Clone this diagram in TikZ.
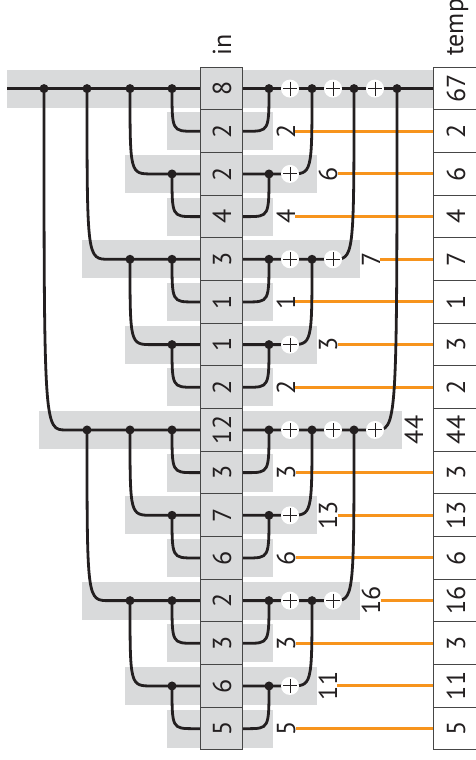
\documentclass[tikz,border=0pt]{standalone}
\usepackage{fontspec}
\setmainfont{PT Sans}
\pgfdeclarelayer{bands}
\pgfdeclarelayer{orng}
\pgfdeclarelayer{wires}
\pgfsetlayers{bands,orng,wires,main}
\definecolor{band}{RGB}{217,218,219}
\definecolor{ora}{RGB}{247,148,29}
\definecolor{ink}{RGB}{35,31,32}
\definecolor{edge}{RGB}{70,70,70}
\tikzset{
  wire/.style={draw=ink,line width=2.8pt},
  owire/.style={draw=ora,line width=3pt},
  jdot/.style={circle,fill=ink,inner sep=0pt,minimum size=9pt},
  plusnode/.style={circle,fill=white,inner sep=0pt,minimum size=18pt},
  crossline/.style={draw=ink,line width=1pt},
  txt/.style={font=\fontsize{26}{30}\selectfont,rotate=90,inner sep=0pt,anchor=base,text=ink},
  cellbox/.style={draw=edge,line width=1pt},
}
\begin{document}
\begin{tikzpicture}[x=1pt,y=-1pt]
\useasboundingbox (0,0) rectangle (475,760);
\foreach \i/\k/\q/\vin/\vt in {0/4/0/8/67, 1/0/0/2/2, 2/1/0/2/6, 3/0/2/4/4,
  4/2/0/3/7, 5/0/4/1/1, 6/1/4/1/3, 7/0/6/2/2, 8/3/0/12/44, 9/0/8/3/3,
  10/1/8/7/13, 11/0/10/6/6, 12/2/8/2/16, 13/0/12/3/3, 14/1/12/6/11, 15/0/14/5/5}{
  \pgfmathsetmacro\yy{88.6+42.67*\i}
  \pgfmathsetmacro\ytop{\yy-21.335}
  \pgfmathsetmacro\ybot{\yy+21.335}
  \coordinate (W\i) at (200,\yy);
  \coordinate (E\i) at (242,\yy);
  \coordinate (T\i) at (433,\yy);
  % cells
  \draw[cellbox,fill=band] (200,\ytop) rectangle (242,\ybot);
  \draw[cellbox,fill=white] (433,\ytop) rectangle (482,\ybot);
  \node[txt] (in\i) at (231,\yy) {\vin};
  \node[txt] (tp\i) at (465,\yy) {\vt};
  % dots and pluses of this row
  \ifnum\k>0
    \foreach \j in {1,...,\k}{
      \pgfmathsetmacro\lx{{172,130,87,44}[\j-1]}
      \pgfmathsetmacro\rx{{269,312,354,397}[\j-1]}
      \node[jdot] (ld\i-\j) at (\lx,\yy) {};
      \node[jdot] (rd\i-\j) at (\rx,\yy) {};
    }
    \pgfmathtruncatemacro\np{min(\k,3)}
    \foreach \j in {1,...,\np}{
      \pgfmathsetmacro\px{{290,333,375}[\j-1]}
      \node[plusnode] (pl\i-\j) at (\px,\yy) {};
      \draw[crossline] (pl\i-\j.center) ++(-7,0) -- ++(14,0)
                       (pl\i-\j.center) ++(0,-7) -- ++(0,14);
    }
  \fi
  \ifnum\i=0
    \coordinate (S0) at (7,\yy);
    \begin{pgfonlayer}{bands}
      \fill[band] (7,\yy-18.9) rectangle (433,\yy+18.9);
    \end{pgfonlayer}
    \begin{pgfonlayer}{wires}
      \draw[wire] (S0) -- (W0);
      \draw[wire] (E0) -- (T0);
    \end{pgfonlayer}
  \else
    \pgfmathsetmacro\bl{{167,125,82,39}[\k]}
    \pgfmathsetmacro\br{{273,317,360,402}[\k]}
    \pgfmathsetmacro\cx{{194,152,109,66}[\k]}
    \pgfmathsetmacro\bx{{295,337,380,423}[\k]}
    \pgfmathtruncatemacro\jj{\k+1}
    \coordinate (lc\i) at (\cx,\yy);
    \begin{pgfonlayer}{bands}
      \fill[band] (\bl,\yy-18.9) rectangle (\br,\yy+18.9);
    \end{pgfonlayer}
    \begin{pgfonlayer}{wires}
      \draw[wire] (ld\q-\jj.center) .. controls (ld\q-\jj.center |- W\i) and (ld\q-\jj.center |- W\i) .. (lc\i) -- (W\i);
      \ifnum\k=0
        \coordinate (rs\i) at (247,\yy);
        \draw[wire] (E\i) -- (rs\i) .. controls (rd\q-\jj.center |- E\i) and (rd\q-\jj.center |- E\i) .. (rd\q-\jj.center);
      \else
        \draw[wire] (E\i) -- (pl\i-\k.center) .. controls (rd\q-\jj.center |- E\i) and (rd\q-\jj.center |- E\i) .. (rd\q-\jj.center);
      \fi
    \end{pgfonlayer}
    \node[txt] (lb\i) at (\bx,\yy) {\vt};
    \ifnum\k<3
      \begin{pgfonlayer}{orng}
        \draw[owire] (lb\i.south) -- (T\i);
      \end{pgfonlayer}
    \fi
  \fi
}
\node[txt,anchor=base west] (hin) at (231,56) {in};
\node[txt,anchor=base west] (htemp) at (463,56) {temp};
\end{tikzpicture}
\end{document}
